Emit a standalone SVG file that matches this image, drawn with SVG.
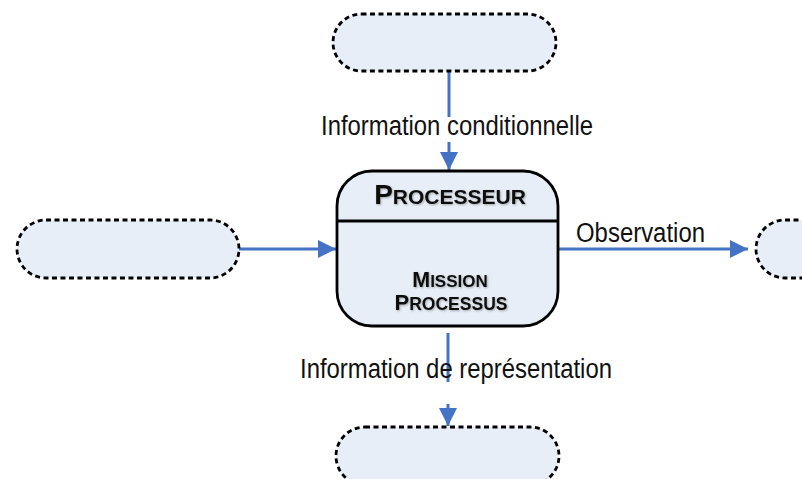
<svg xmlns="http://www.w3.org/2000/svg" width="802" height="479" viewBox="0 0 802 479">
<defs>
<style>
.term{fill:#E8EEF7;stroke:#000;stroke-width:2.8;stroke-dasharray:5 3.5}
.proc{fill:#E8EEF7;stroke:#000;stroke-width:2.8}
.conn{fill:none;stroke:#4472C4;stroke-width:3}
.lbl{font-family:"Liberation Sans",Arial,sans-serif;font-size:27px;fill:#111}
.title{font-family:"Liberation Sans",Arial,sans-serif;font-weight:bold;fill:#111;text-anchor:middle;filter:url(#sh)}
</style>
<marker id="arr" viewBox="0 0 18 18" refX="18" refY="9" markerWidth="18" markerHeight="18" markerUnits="userSpaceOnUse" orient="auto">
<path d="M0,0 L18,9 L0,18 z" fill="#4472C4"/>
</marker>
<filter id="sh" x="-10%" y="-30%" width="120%" height="160%">
<feDropShadow dx="1" dy="1" stdDeviation="0.8" flood-color="#000" flood-opacity="0.3"/>
</filter>
</defs>
<g id="connectors">
<path class="conn" d="M449 71 V117"/>
<path class="conn" d="M449 142 V170" marker-end="url(#arr)"/>
<path class="conn" d="M239 249 H336" marker-end="url(#arr)"/>
<path class="conn" d="M559 249 H748" marker-end="url(#arr)"/>
<path class="conn" d="M448 333 V382"/>
<path class="conn" d="M448 404 V426" marker-end="url(#arr)"/>
<text class="lbl" x="321" y="135" textLength="272" lengthAdjust="spacingAndGlyphs">Information conditionnelle</text>
<text class="lbl" x="576" y="242" textLength="129" lengthAdjust="spacingAndGlyphs">Observation</text>
<text class="lbl" x="300" y="378" textLength="312" lengthAdjust="spacingAndGlyphs">Information de représentation</text>
</g>
<g id="node-top"><rect class="term" x="333" y="14" width="223" height="57" rx="28.5"/></g>
<g id="node-left"><rect class="term" x="17" y="220" width="222" height="58" rx="29"/></g>
<g id="node-right"><rect class="term" x="756" y="220" width="120" height="58" rx="29"/></g>
<g id="node-bottom"><rect class="term" x="336" y="427" width="223" height="58" rx="29"/></g>
<g id="node-processeur">
<rect class="proc" x="337" y="171" width="221" height="155" rx="35"/>
<line x1="337" y1="221" x2="558" y2="221" stroke="#000" stroke-width="2.8"/>
<text class="title" x="450" y="204" font-size="28">P<tspan font-size="21">ROCESSEUR</tspan></text>
<text class="title" x="450" y="287" font-size="21.5">M<tspan font-size="17">ISSION</tspan></text>
<text class="title" x="451" y="310" font-size="22">P<tspan font-size="17.5">ROCESSUS</tspan></text>
</g>
</svg>
